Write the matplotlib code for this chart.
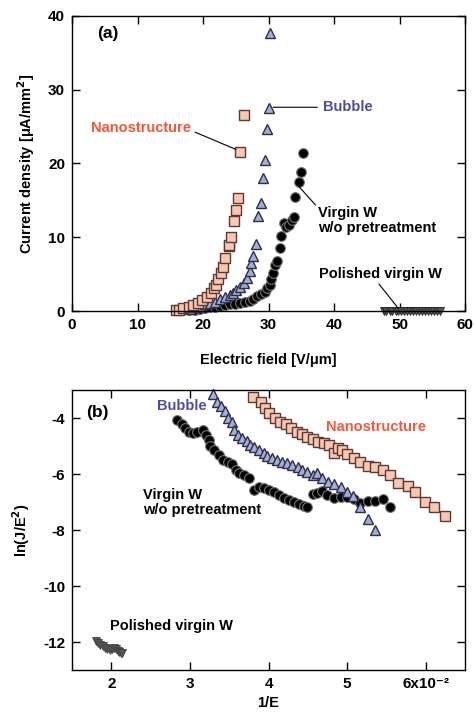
import matplotlib
matplotlib.use('Agg')
import matplotlib.pyplot as plt
import numpy as np

plt.rcParams['font.family'] = ['Liberation Sans', 'DejaVu Sans']
plt.rcParams['font.weight'] = 'bold'
plt.rcParams['axes.labelweight'] = 'bold'

# ---- panel (a): J vs E ----
nano_E = [15.8, 16.3, 17.0, 17.8, 18.5, 19.2, 19.9, 20.6, 21.2, 21.6, 22.0, 22.3, 22.7,
          23.1, 23.4, 23.9, 24.0, 24.3, 24.7, 25.0, 25.4, 25.65, 26.3]
nano_J = [0.1, 0.2, 0.4, 0.5, 0.8, 1.1, 1.5, 1.9, 2.5, 3.1, 3.6, 4.3, 5.1,
          6.0, 7.2, 8.8, 9.0, 10.0, 12.2, 13.7, 15.25, 21.6, 26.6]

bub_E = [18.0, 18.8, 19.5, 20.3, 21.1, 21.8, 22.6, 23.4, 24.1, 24.6, 25.1, 25.6, 26.2,
         26.7, 27.1, 27.4, 27.7, 28.1, 28.4, 28.8, 29.1, 29.4, 29.7, 30.0, 30.3]
bub_J = [0.3, 0.5, 0.7, 0.9, 1.1, 1.3, 1.6, 1.9, 2.2, 2.5, 2.9, 3.3, 3.8,
         4.5, 5.4, 6.5, 7.5, 9.1, 12.9, 14.7, 18.0, 20.4, 24.6, 27.5, 37.6]

virgin_E = [17.9, 18.8, 19.5, 20.3, 21.0, 21.8, 22.6, 23.3, 24.1, 24.9, 25.6, 26.4, 27.1,
            27.7, 28.3, 28.9, 29.4, 29.8, 30.2, 30.4, 30.7, 31.0, 31.3, 31.7, 31.9,
            32.3, 32.6, 33.1, 33.6, 33.9, 34.1, 34.7, 35.0, 35.3]
virgin_J = [0.1, 0.2, 0.3, 0.4, 0.5, 0.6, 0.7, 0.8, 0.9, 1.0, 1.1, 1.2, 1.4,
            1.6, 2.0, 2.3, 2.6, 3.1, 3.6, 4.4, 5.1, 6.2, 6.8, 8.5, 10.2,
            11.9, 11.4, 11.6, 12.3, 12.8, 15.5, 17.5, 18.9, 21.4]

pol_E = [47.6, 48.0, 48.5, 48.9, 49.4, 49.8, 50.3, 50.7, 51.2, 51.6, 52.1, 52.5,
         53.0, 53.4, 53.9, 54.3, 54.8, 55.2, 55.7, 56.2]
pol_J = [0.02, 0.02, 0.02, 0.02, 0.02, 0.02, 0.02, 0.02, 0.02, 0.02, 0.02, 0.02,
         0.02, 0.02, 0.02, 0.02, 0.02, 0.02, 0.02, 0.02]

# ---- panel (b): ln(J/E^2) vs 1/E  (1/E in units of 1e-2) ----
nano_invE = [3.80, 3.90, 3.96, 4.01, 4.08, 4.14, 4.22, 4.29, 4.36, 4.42, 4.49, 4.57, 4.63,
             4.70, 4.77, 4.83, 4.88, 4.94, 5.00, 5.09, 5.17, 5.26, 5.36, 5.46, 5.55,
             5.65, 5.77, 5.87, 5.99, 6.11, 6.24]
nano_ln = [-3.26, -3.43, -3.62, -3.82, -4.00, -4.13, -4.21, -4.36, -4.48, -4.56, -4.66, -4.75, -4.84,
           -4.87, -4.96, -5.23, -5.07, -5.13, -5.29, -5.43, -5.55, -5.71, -5.76, -5.85, -6.03,
           -6.30, -6.42, -6.63, -6.99, -7.16, -7.49]

bub_invE = [3.29, 3.34, 3.39, 3.44, 3.49, 3.54, 3.56, 3.61, 3.66, 3.72, 3.77, 3.82, 3.88,
            3.94, 3.98, 4.05, 4.11, 4.17, 4.24, 4.30, 4.37, 4.43, 4.49, 4.56, 4.62,
            4.68, 4.76, 4.83, 4.92, 5.00, 5.08, 5.16, 5.26, 5.35]
bub_ln = [-3.14, -3.44, -3.58, -3.76, -4.00, -4.12, -4.42, -4.60, -4.72, -4.81, -4.96, -5.04, -5.13,
          -5.25, -5.37, -5.43, -5.49, -5.55, -5.61, -5.67, -5.76, -5.85, -5.93, -6.03, -5.97,
          -6.15, -6.27, -6.36, -6.47, -6.63, -6.78, -7.16, -7.61, -8.00]

virgin_invE = [2.84, 2.90, 2.94, 2.99, 3.04, 3.09, 3.16, 3.20, 3.24, 3.26, 3.31, 3.37, 3.42,
               3.48, 3.54, 3.58, 3.63, 3.69, 3.75, 3.81, 3.88, 3.94, 4.00, 4.07, 4.13,
               4.20, 4.26, 4.32, 4.39, 4.45, 4.49, 4.56, 4.62, 4.68, 4.75, 4.83, 4.92,
               5.00, 5.09, 5.17, 5.26, 5.36, 5.46, 5.55]
virgin_ln = [-4.06, -4.20, -4.36, -4.48, -4.54, -4.48, -4.44, -4.60, -4.78, -4.99, -5.13, -5.31, -5.49,
             -5.55, -5.64, -5.87, -5.97, -6.03, -6.15, -6.57, -6.45, -6.51, -6.57, -6.65, -6.75,
             -6.87, -6.93, -6.99, -7.07, -7.13, -7.19, -6.72, -6.69, -6.59, -6.75, -6.87, -6.81,
             -6.81, -6.90, -7.02, -6.95, -6.95, -6.89, -7.19]

pol_invE = [1.80, 1.83, 1.86, 1.89, 1.92, 1.95, 1.98, 2.01, 2.04, 2.06, 2.08, 2.10, 2.12, 2.14]
pol_ln = [-11.96, -12.05, -12.10, -12.15, -12.20, -12.24, -12.27, -12.25, -12.22, -12.25,
          -12.32, -12.36, -12.40, -12.40]

xticks_b = [0.02, 0.03, 0.04, 0.05, 0.06]
xticklabels_b = ['2', '3', '4', '5', '6x10\u207b\u00b2']

nano_face = '#f9c6b0'
nano_edge = '#5a3b33'
bub_face = '#a3aed6'
bub_edge = '#2c2f4a'
nano_txt = '#f4583c'
bub_txt = '#4c4ca8'

fig = plt.figure(figsize=(4.74, 7.12), dpi=100)
ax1 = fig.add_axes([0.152, 0.563, 0.829, 0.415])
ax2 = fig.add_axes([0.152, 0.059, 0.829, 0.393])

for ax in (ax1, ax2):
    ax.tick_params(direction='in', length=6, width=1, top=True, right=True, labelsize=11, pad=5)
    for s in ax.spines.values():
        s.set_linewidth(1.0)

# panel (a)
ax1.plot(pol_E, pol_J, 'v', ms=6, mfc='#555555', mec='#222222', mew=0.6, clip_on=False)
ax1.plot(virgin_E, virgin_J, 'o', ms=7, mfc='black', mec='#777777', mew=0.8, clip_on=False)
ax1.plot(bub_E, bub_J, '^', ms=7, mfc=bub_face, mec=bub_edge, mew=1.0, clip_on=False)
ax1.plot(nano_E, nano_J, 's', ms=7, mfc=nano_face, mec=nano_edge, mew=1.0, clip_on=False)
ax1.set_xlim(0, 60)
ax1.set_ylim(0, 40)
ax1.set_xticks([0, 10, 20, 30, 40, 50, 60])
ax1.set_yticks([0, 10, 20, 30, 40])
ax1.set_xlabel('Electric field [V/\u03bcm]', fontsize=10.5, labelpad=15)
ax1.set_ylabel('Current density [\u03bcA/mm$^\\mathbf{2}$]', fontsize=10.5, labelpad=8)
ax1.text(0.063, 0.94, '(a)', transform=ax1.transAxes, fontsize=12.5, va='center')

ax1.annotate('Nanostructure', xy=(25.0, 21.9), xytext=(2.9, 24.8), color=nano_txt,
             fontsize=10.5, va='center', ha='left',
             arrowprops=dict(arrowstyle='-', color='black', lw=0.8, shrinkA=0, shrinkB=0,
                             relpos=(1.04, 0.2)))
ax1.annotate('Bubble', xy=(30.7, 27.6), xytext=(38.3, 27.6), color=bub_txt,
             fontsize=10.5, va='center', ha='left',
             arrowprops=dict(arrowstyle='-', color='black', lw=0.8, shrinkA=2, shrinkB=0,
                             relpos=(0, 0.5)))
ax1.annotate('Virgin W\nw/o pretreatment', xy=(34.5, 17.0), xytext=(37.6, 12.3), color='black',
             fontsize=10.5, va='center', ha='left', linespacing=1.1,
             arrowprops=dict(arrowstyle='-', color='black', lw=0.8, shrinkA=0, shrinkB=0,
                             relpos=(0.0, 0.92)))
ax1.annotate('Polished virgin W', xy=(49.8, 0.4), xytext=(37.7, 5.0), color='black',
             fontsize=10.5, va='center', ha='left',
             arrowprops=dict(arrowstyle='-', color='black', lw=0.8, shrinkA=0, shrinkB=0,
                             relpos=(0.47, 0.0)))

# panel (b)
x = lambda v: np.array(v) * 1e-2
ax2.plot(x(pol_invE), pol_ln, 'v', ms=6, mfc='#555555', mec='#444444', mew=0.6)
ax2.plot(x(virgin_invE), virgin_ln, 'o', ms=7, mfc='black', mec='#777777', mew=0.8)
ax2.plot(x(bub_invE), bub_ln, '^', ms=7, mfc=bub_face, mec=bub_edge, mew=1.0, clip_on=False)
ax2.plot(x(nano_invE), nano_ln, 's', ms=7, mfc=nano_face, mec=nano_edge, mew=1.0, clip_on=False)
ax2.set_xlim(0.015, 0.065)
ax2.set_ylim(-13, -3)
ax2.set_xticks(xticks_b)
ax2.set_xticklabels(xticklabels_b)
ax2.set_yticks([-12, -10, -8, -6, -4])
ax2.set_yticklabels(['-12', '-10', '-8', '-6', '-4'])
ax2.set_xlabel('1/E', fontsize=10.5, labelpad=4)
ax2.set_ylabel('ln(J/E$^\\mathbf{2}$)', fontsize=10.5, labelpad=8)
ax2.text(0.035, 0.92, '(b)', transform=ax2.transAxes, fontsize=12.5, va='center')

ax2.text(0.0258, -3.58, 'Bubble', color=bub_txt, fontsize=10.5, va='center')
ax2.text(0.0473, -4.30, 'Nanostructure', color=nano_txt, fontsize=10.5, va='center')
ax2.text(0.0240, -7.0, 'Virgin W\nw/o pretreatment', color='black', fontsize=10.5,
         va='center', linespacing=1.1)
ax2.text(0.0198, -11.44, 'Polished virgin W', color='black', fontsize=10.5, va='center')

fig.savefig('out.png', dpi=100)
